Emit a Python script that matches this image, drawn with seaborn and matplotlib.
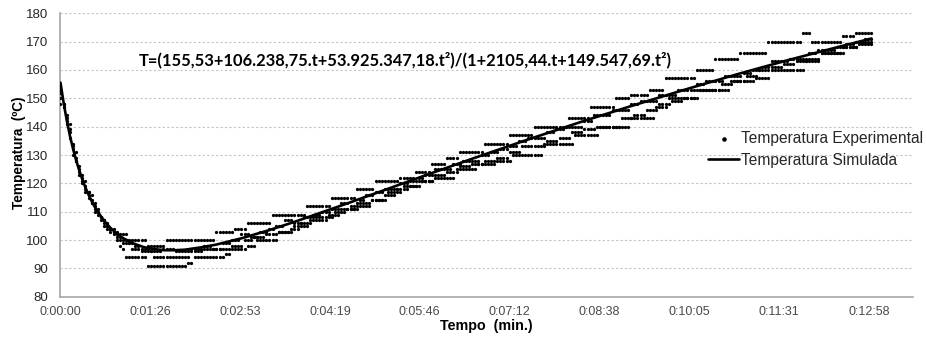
import numpy as np
import pandas as pd
import matplotlib
matplotlib.use("Agg")
import matplotlib.pyplot as plt
import seaborn as sns

# ---------------- data ----------------
# simulated curve (time in s, temperature in degC)
sim_time = [0, 3, 6, 9, 12, 15, 18, 21, 24, 27, 30, 33, 36, 39, 42, 45, 48, 51, 54, 57, 60,
            70, 80, 90, 100, 110, 120, 135, 150, 175, 200, 225, 250, 275, 300, 350, 400,
            450, 500, 550, 600, 650, 700, 750, 780]
sim_temp = [155.5, 148.4, 142.3, 136.9, 132.3, 128.2, 124.6, 121.4, 118.5, 116.0, 113.7,
            111.7, 109.9, 108.3, 106.8, 105.5, 104.3, 103.3, 102.3, 101.5, 100.7,
            98.8, 97.5, 96.8, 96.4, 96.4, 96.6, 97.4, 98.4, 100.7, 103.4, 106.4, 109.6,
            112.8, 116.1, 122.7, 129.2, 135.5, 141.6, 147.4, 153.0, 158.4, 163.5, 168.3, 171.1]

# experimental readings: four runs, each given as (start time of reading, reading)
run_a_start = [0, 3, 6, 9, 12, 15, 18, 21, 24, 27, 30, 33, 36, 39, 42, 45, 48, 51, 54, 57,
               60, 66, 84, 102, 150, 168, 180, 204, 237, 261, 283, 302, 326, 342, 357, 372,
               384, 406, 432, 454, 489, 510, 533, 547, 566, 582, 611, 630, 652, 681, 714,
               723, 753, 765]
run_a_temp = [153, 148, 142, 141, 133, 131, 126, 123, 121, 117, 116, 113, 111, 108, 107, 106,
              104, 104, 103, 102,
              102, 100, 98, 100, 103, 104, 106, 109, 112, 115, 118, 121, 122, 124, 127, 129,
              131, 134, 137, 140, 143, 147, 150, 151, 153, 157, 160, 164, 166, 170, 173,
              170, 172, 173]

run_b_start = [0, 3, 6, 9, 12, 15, 18, 21, 24, 27, 30, 33, 36, 39, 42, 45, 48, 51, 54, 57,
               60, 66, 72, 78, 87, 99, 111, 126, 138, 147, 156, 165, 174, 183, 192, 201, 207,
               216, 225, 234, 243, 252, 261, 270, 279, 288, 294, 303, 312, 321, 327, 336,
               345, 351, 360, 369, 378, 387, 396, 405, 414, 423, 432, 441, 450, 459, 468,
               477, 486, 495, 504, 513, 522, 531, 540, 549, 558, 567, 576, 585, 594, 603,
               612, 621, 630, 639, 648, 657, 666, 675, 684, 693, 702, 711, 720, 729, 738,
               747, 756, 765, 774]
run_b_temp = [150, 148, 143, 138, 132, 128, 124, 122, 118, 116, 113, 111, 109, 108, 106, 105,
              104, 103, 102, 101,
              100, 99, 98, 97, 96, 97, 96, 97, 98, 97, 99, 100, 102, 101, 103, 104, 105,
              107, 106, 108, 109, 110, 111, 113, 112, 114, 116, 117, 118, 118, 120, 121,
              122, 123, 125, 125, 127, 128, 128, 130, 131, 132, 133, 135, 136, 136, 138,
              139, 140, 140, 142, 144, 144, 146, 146, 148, 149, 149, 151, 151, 153, 153,
              155, 156, 156, 158, 158, 159, 160, 161, 163, 163, 164, 164, 166, 167, 167,
              168, 169, 170, 171]

run_c_start = [0, 3, 6, 9, 12, 15, 18, 21, 24, 27, 30, 33, 36, 39, 42, 45, 48, 51, 54, 57,
               60, 63, 84, 121, 129, 158, 163, 178, 188, 208, 223, 240, 258, 270, 285, 300,
               315, 330, 345, 360, 380, 400, 420, 435, 463, 494, 518, 547, 573, 585, 614,
               643, 668, 684, 716, 732, 752, 766]
run_c_temp = [148, 147, 141, 136, 130, 128, 123, 120, 117, 115, 113, 110, 110, 107, 105, 104,
              103, 102, 100, 98,
              97, 94, 91, 92, 94, 95, 97, 98, 100, 103, 105, 107, 109, 111, 113, 114,
              117, 119, 121, 122, 125, 127, 128, 130, 134, 137, 140, 143, 147, 150, 153,
              156, 157, 160, 163, 166, 168, 170]

run_d_start = [0, 3, 6, 9, 12, 15, 18, 21, 24, 27, 30, 33, 36, 39, 42, 45, 48, 51, 54, 57,
               60, 69, 78, 90, 111, 126, 138, 150, 165, 177, 186, 198, 210, 222, 231, 243,
               255, 264, 276, 288, 300, 312, 324, 336, 348, 360, 372, 384, 396, 408, 420,
               432, 444, 456, 468, 480, 492, 504, 516, 528, 540, 552, 564, 576, 588, 600,
               612, 624, 636, 648, 660, 672, 684, 696, 708, 720, 732, 744, 756, 768]
run_d_temp = [152, 147, 144, 139, 134, 129, 125, 121, 119, 117, 114, 112, 110, 108, 107, 105,
              104, 103, 101, 100,
              99, 97, 96, 94, 94, 96, 97, 97, 98, 100, 101, 102, 103, 104, 106, 108,
              108, 110, 111, 112, 114, 116, 118, 119, 121, 123, 124, 126, 127, 128, 129,
              131, 133, 133, 135, 136, 138, 139, 140, 140, 143, 144, 146, 148, 149, 150,
              153, 153, 155, 156, 158, 160, 161, 162, 163, 164, 166, 166, 168, 169]

reading_interval_s = 3
last_reading_s = 780

tick_seconds = [0, 86.4, 172.8, 259.2, 345.6, 432.0, 518.4, 604.8, 691.2, 777.6]
tick_labels = ["0:00:00", "0:01:26", "0:02:53", "0:04:19", "0:05:46", "0:07:12",
               "0:08:38", "0:10:05", "0:11:31", "0:12:58"]
y_ticks = [80, 90, 100, 110, 120, 130, 140, 150, 160, 170, 180]

equation = "T=(155,53+106.238,75.t+53.925.347,18.t²)/(1+2105,44.t+149.547,69.t²)"

# ---------------- build tables ----------------
def readings(starts, temps):
    t = np.arange(0, last_reading_s + 1, reading_interval_s)
    idx = np.searchsorted(np.asarray(starts), t, side="right") - 1
    return pd.DataFrame({"t": t, "T": np.asarray(temps, dtype=float)[idx]})

df_exp = pd.concat([readings(run_a_start, run_a_temp),
                    readings(run_b_start, run_b_temp),
                    readings(run_c_start, run_c_temp),
                    readings(run_d_start, run_d_temp)], ignore_index=True)
df_sim = pd.DataFrame({"t": sim_time, "T": sim_temp})

# ---------------- plot ----------------
sns.set_theme(style="white")
plt.rcParams["font.family"] = ["Liberation Sans", "DejaVu Sans"]

fig = plt.figure(figsize=(9.28, 3.37), dpi=100)
ax = fig.add_axes([60.5 / 928, 1 - 296.7 / 337, (913 - 60.5) / 928, (296.7 - 13.3) / 337])

sns.scatterplot(data=df_exp, x="t", y="T", ax=ax, color="black", s=5.5, linewidth=0,
                marker="o", label="Temperatura Experimental", zorder=3)
sns.lineplot(data=df_sim, x="t", y="T", ax=ax, color="black", linewidth=1.9,
             sort=False, estimator=None, label="Temperatura Simulada", zorder=4)

ax.set_xlim(0, 820)
ax.set_ylim(80, 180)
ax.set_xticks(tick_seconds)
ax.set_xticklabels(tick_labels)
ax.set_yticks(y_ticks)
ax.set_xlabel("")
ax.set_ylabel("")

ax.yaxis.grid(True, linestyle=(0, (2, 2)), color="#c4c4c4", linewidth=0.8)
ax.xaxis.grid(False)
for side in ("top", "right"):
    ax.spines[side].set_visible(False)
for side in ("left", "bottom"):
    ax.spines[side].set_color("#a6a6a6")
    ax.spines[side].set_linewidth(1.2)

ax.tick_params(axis="x", length=0, pad=7, labelsize=9, labelcolor="#4a4a4a")
ax.tick_params(axis="y", length=0, pad=9, labelsize=9.5, labelcolor="#262626")

fig.text(19 / 928, 1 - 152.5 / 337, "Temperatura  (ºC)", rotation=90, ha="center",
         va="center", fontsize=9.8, fontweight="bold", color="black")
fig.text(486.5 / 928, 1 - 326 / 337, "Tempo  (min.)", ha="center", va="center",
         fontsize=10.3, fontweight="bold", color="black")

ax.text(331.7, 163.5, equation, ha="center", va="center", fontsize=11.9,
        fontweight="bold", family=["Lato", "DejaVu Sans"], color="black")

leg = ax.get_legend()
if leg is not None:
    leg.remove()
handles, labels = ax.get_legend_handles_labels()
fig.legend(handles, labels, loc="upper left", bbox_to_anchor=(708 / 928, 1 - 131 / 337),
           frameon=False, fontsize=11.2, handlelength=2.0, handletextpad=0.15,
           borderpad=0, borderaxespad=0, labelspacing=0.42, markerscale=1.4)

fig.savefig("out.png", dpi=100)
